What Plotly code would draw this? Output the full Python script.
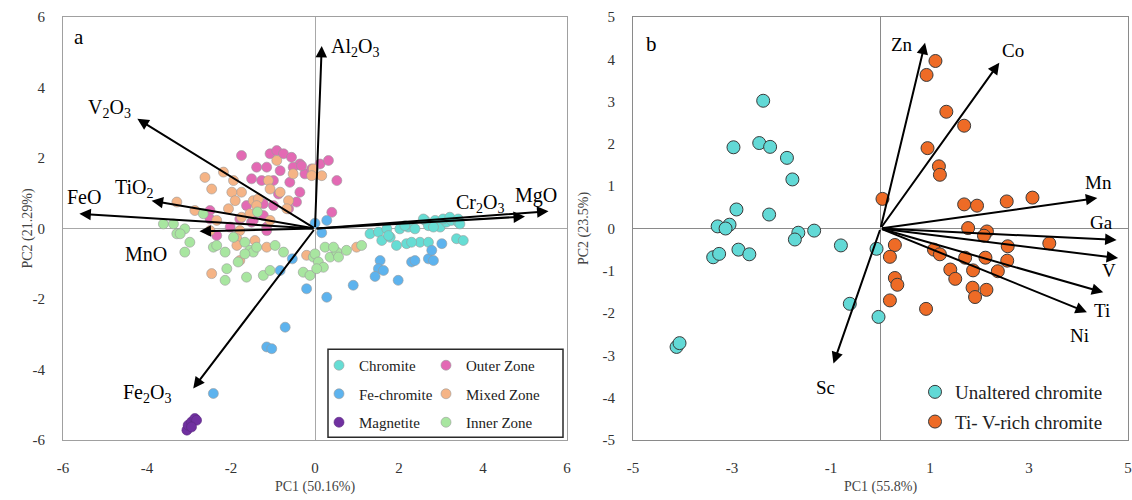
import plotly.graph_objects as go

# ---------------- Panel a data ----------------
outer_x = [-1.75, -1.07, -0.91, -0.75, -0.56, -0.36, 0.12, 0.32, 0.52, -1.39, -1.15, -0.83, -0.52, -0.24,
           -1.51, -1.27, -0.99, -0.60, -0.87, -0.36, -0.44, -0.99, -1.23, -1.63, 0.40, -2.50, -1.23, -1.51,
           -2.02, -1.15, -2.50, -1.79, -1.47, -0.63, -2.34, -1.15, -0.32, -0.08]
outer_y = [2.07, 2.12, 2.21, 2.12, 2.02, 1.83, 1.83, 1.93, 1.36, 1.74, 1.74, 1.64, 1.74, 1.55,
           1.41, 1.36, 1.36, 1.31, 0.98, 1.03, 0.75, 0.65, 0.70, 0.65, 0.46, 0.51, 0.37, 0.18,
           0.04, 0.04, 0.27, 0.27, 0.23, 0.56, -0.20, -0.06, 1.78, 1.69]

mixed_x = [-2.18, -2.62, -2.46, -1.94, -1.75, -1.98, -1.90, -1.47, -1.35, -1.11, -0.91, -0.52, -0.04, 0.16,
           -0.08, -1.07, -0.83, -0.63, -0.67, -3.29, -2.86, -2.34, -1.07, -2.06, -1.75, -1.55, -1.39, -2.50,
           -1.79, -1.43, -1.15, -1.79, -2.46, -0.20, 0.99, -1.86, -1.86]
mixed_y = [1.60, 1.45, 1.12, 1.36, 1.03, 1.03, 0.79, 0.79, 0.84, 1.36, 1.93, 1.55, 1.69, 1.50,
           1.50, 1.12, 1.03, 0.79, 0.56, 0.75, 0.51, 0.23, 0.23, 0.56, 0.32, 0.42, 0.65, -0.06,
           -0.06, -0.34, -0.53, -0.91, -1.28, -0.76, -0.53, -0.29, -0.48]

inner_x = [-3.61, -3.37, -3.10, -3.29, -2.66, -1.37, -2.98, -3.10, -2.42, -2.34, -2.14, -1.94, -1.67, -1.55,
           -1.47, -1.67, -1.39, -0.95, -0.75, -1.83, -2.10, -2.14, -1.63, -1.23, -1.07, -0.28, -0.12, -0.04,
           0.00, 0.24, 0.36, 0.08, 0.20, 0.04, 0.52, 0.75, 0.44, 0.56, 1.11, -3.21]
inner_y = [0.13, 0.13, -0.01, -0.15, 0.42, 0.47, -0.39, -0.67, -0.53, -0.48, -0.67, -0.25, -0.39, -0.62,
           -0.67, -0.72, -0.53, -0.48, -0.67, -0.95, -1.14, -1.47, -1.38, -1.33, -1.19, -1.24, -1.33, -0.81,
           -0.72, -0.53, -0.81, -0.95, -1.10, -1.14, -0.67, -0.62, -0.53, -0.81, -0.48, -0.15]

chromite_x = [1.31, 1.51, 1.71, 1.59, 1.79, 1.94, 2.18, 2.02, 2.22, 2.38, 2.50, 2.62, 2.70, 2.86, 2.98,
              3.13, 3.25, 3.41, 3.37, 3.53, 2.70, 2.30, 2.14, 2.58, 3.05, 3.21, 3.41, 3.45, 2.82, 1.75]
chromite_y = [-0.15, -0.10, -0.01, -0.34, -0.25, -0.48, -0.43, -0.01, 0.04, -0.01, -0.39, 0.23, 0.08, 0.23, 0.04,
              0.18, 0.23, 0.18, -0.29, -0.34, -0.39, -0.39, 0.08, 0.27, 0.27, 0.32, 0.27, 0.13, 0.04, -0.20]

fechromite_x = [0.00, 0.28, 0.16, 1.55, 1.51, 1.63, 2.30, 2.38, 2.70, 2.82, 2.78, 3.02, -0.54, -0.83,
                -0.20, 0.28, 0.91, 1.43, 1.98, -0.71, -1.15, -1.03, -2.42]
fechromite_y = [0.15, 0.23, -0.12, -0.91, -1.14, -1.19, -0.95, -0.91, -0.86, -0.91, -0.62, -0.43, -0.86, -1.19,
                -1.71, -1.95, -1.61, -1.36, -1.47, -2.80, -3.36, -3.41, -4.68]

magnetite_x = [-3.05, -3.02, -2.94, -2.86, -2.82, -2.94]
magnetite_y = [-5.72, -5.58, -5.49, -5.39, -5.44, -5.63]

a_vec_names = ["Al<sub>2</sub>O<sub>3</sub>", "V<sub>2</sub>O<sub>3</sub>", "FeO", "TiO<sub>2</sub>", "MnO",
               "Cr<sub>2</sub>O<sub>3</sub>", "MgO", "Fe<sub>2</sub>O<sub>3</sub>"]
a_vec_x = [0.16, -4.23, -5.61, -3.89, -2.75, 5.00, 5.56, -2.90]
a_vec_y = [5.18, 3.11, 0.42, 0.79, -0.08, 0.34, 0.49, -4.54]
a_lab_x = [0.95, -4.90, -5.50, -4.29, -4.02, 3.94, 5.26, -4.01]
a_lab_y = [5.13, 3.40, 0.88, 1.13, -0.71, 0.71, 0.93, -4.67]

a_xticks = [-6, -4, -2, 0, 2, 4, 6]
a_yticks = [-6, -4, -2, 0, 2, 4, 6]

# ---------------- Panel b data ----------------
unaltered_x = [-2.37, -2.97, -2.45, -2.23, -1.89, -1.78, -2.91, -2.25, -3.29, -3.05, -3.13, -1.66, -1.73,
               -1.34, -0.80, -0.08, -3.38, -3.26, -2.87, -2.65, -0.62, -0.04, -4.12, -4.06]
unaltered_y = [3.02, 1.92, 2.02, 1.93, 1.67, 1.16, 0.45, 0.33, 0.05, 0.09, 0.00, -0.10, -0.26,
               -0.05, -0.40, -0.48, -0.68, -0.60, -0.50, -0.61, -1.78, -2.09, -2.80, -2.71]

tiv_x = [1.11, 0.93, 1.33, 1.69, 0.95, 1.18, 1.20, 0.04, 1.69, 1.95, 2.55, 3.07, 1.77, 2.15, 2.09, 2.57,
         3.41, 0.29, 0.19, 1.08, 1.20, 1.71, 2.12, 2.56, 1.41, 1.51, 1.87, 2.37, 0.29, 0.34, 1.86, 1.91,
         2.14, 0.19, 0.92]
tiv_y = [3.96, 3.63, 2.76, 2.43, 1.90, 1.47, 1.27, 0.70, 0.57, 0.54, 0.64, 0.73, 0.01, -0.07, -0.17, -0.42,
         -0.35, -0.39, -0.67, -0.50, -0.61, -0.69, -0.69, -0.76, -0.97, -1.19, -0.99, -1.01, -1.17, -1.33, -1.40, -1.62,
         -1.45, -1.70, -1.90]

b_vec_names = ["Zn", "Co", "Mn", "Ga", "V", "Ti", "Ni", "Sc"]
b_vec_x = [0.90, 2.40, 4.38, 4.77, 4.80, 4.50, 4.17, -0.95]
b_vec_y = [4.39, 3.92, 0.72, -0.27, -0.70, -1.51, -1.98, -3.19]
b_lab_x = [0.43, 2.67, 4.41, 4.46, 4.61, 4.48, 4.03, -1.12]
b_lab_y = [4.36, 4.20, 1.09, 0.15, -0.99, -1.93, -2.52, -3.77]

b_xticks = [-5, -3, -1, 1, 3, 5]
b_yticks = [-5, -4, -3, -2, -1, 0, 1, 2, 3, 4, 5]

FONT = "Liberation Serif"
W, H = 1132, 500
ML, MR, MT, MB = 0, 4, 17, 60
PW = W - ML - MR
PH = H - MT - MB


def px_x(px):
    return (px - ML) / PW


def px_y(py):
    return (H - MB - py) / PH


def labels(vals):
    return [str(v) for v in vals]


fig = go.Figure()


def add_pts(x, y, name, color, legend, group, size, lcol, lw, xa, ya):
    fig.add_trace(go.Scatter(
        x=x, y=y, mode="markers", name=name, legend=legend, legendgroup=group,
        marker=dict(size=size, color=color, line=dict(color=lcol, width=lw)),
        xaxis=xa, yaxis=ya, hoverinfo="x+y+name"))


add_pts(outer_x, outer_y, "Outer Zone", "#E36AB4", "legend3", "g4", 10, "#9a9a9a", 0.6, "x", "y")
add_pts(mixed_x, mixed_y, "Mixed Zone", "#F5B486", "legend3", "g5", 10, "#9a9a9a", 0.6, "x", "y")
add_pts(inner_x, inner_y, "Inner Zone", "#A8E6A0", "legend3", "g6", 10, "#9a9a9a", 0.6, "x", "y")
add_pts(chromite_x, chromite_y, "Chromite", "#66DDD4", "legend", "g1", 10, "#9a9a9a", 0.6, "x", "y")
add_pts(fechromite_x, fechromite_y, "Fe-chromite", "#5DB3EE", "legend", "g2", 10, "#9a9a9a", 0.6, "x", "y")
add_pts(magnetite_x, magnetite_y, "Magnetite", "#7030A0", "legend", "g3", 10, "#5a2a80", 0.6, "x", "y")

add_pts(unaltered_x, unaltered_y, "Unaltered chromite", "#62D9D6", "legend2", "h1", 13, "#3a3a3a", 1, "x2", "y2")
add_pts(tiv_x, tiv_y, "Ti- V-rich chromite", "#EE6B26", "legend2", "h2", 13, "#3a3a3a", 1, "x2", "y2")

annotations = []
for xs, ys, xr, yr in [(a_vec_x, a_vec_y, "x", "y"), (b_vec_x, b_vec_y, "x2", "y2")]:
    for tx, ty in zip(xs, ys):
        annotations.append(dict(x=tx, y=ty, ax=0, ay=0, xref=xr, yref=yr, axref=xr, ayref=yr,
                                text="", showarrow=True, arrowhead=2, arrowsize=1.15,
                                arrowwidth=2, arrowcolor="black"))
for names, lx, ly, xr, yr, fs in [(a_vec_names, a_lab_x, a_lab_y, "x", "y", 20),
                                  (b_vec_names, b_lab_x, b_lab_y, "x2", "y2", 19)]:
    for n, tx, ty in zip(names, lx, ly):
        annotations.append(dict(x=tx, y=ty, xref=xr, yref=yr, text=n, showarrow=False,
                                font=dict(family=FONT, size=fs, color="black")))
annotations.append(dict(x=-5.61, y=5.42, xref="x", yref="y", text="a", showarrow=False,
                        font=dict(family=FONT, size=21, color="black")))
annotations.append(dict(x=-4.62, y=4.36, xref="x2", yref="y2", text="b", showarrow=False,
                        font=dict(family=FONT, size=21, color="black")))

tickfont = dict(family=FONT, size=15, color="#333333")
titlefont = dict(family=FONT, size=14, color="#444444")

# y-axis title of panel a, placed close to its tick labels as in the reference
annotations.append(dict(x=px_x(27), y=0.5, xref="paper", yref="paper", text="PC2 (21.29%)",
                        xanchor="center", yanchor="middle",
                        textangle=-90, showarrow=False, font=titlefont))

common = dict(showgrid=False, zeroline=True, showline=True, mirror=True, ticks="outside",
              ticklen=14, tickcolor="rgba(0,0,0,0)", tickfont=tickfont, automargin=False)

fig.update_layout(
    width=W, height=H, margin=dict(l=ML, r=MR, t=MT, b=MB, autoexpand=False),
    paper_bgcolor="white", plot_bgcolor="white", showlegend=True,
    annotations=annotations,
    xaxis=dict(domain=[px_x(63), px_x(567)], range=[-6, 6], tickvals=a_xticks, ticktext=labels(a_xticks),
               anchor="y", zerolinecolor="#a8a8a8", zerolinewidth=1, linecolor="#a0a0a0", linewidth=1,
               title=dict(text="PC1 (50.16%)", font=titlefont, standoff=6), **common),
    yaxis=dict(domain=[0, 1], range=[-6, 6], tickvals=a_yticks, ticktext=labels(a_yticks), anchor="x",
               zerolinecolor="#a8a8a8", zerolinewidth=1, linecolor="#a0a0a0", linewidth=1, **common),
    xaxis2=dict(domain=[px_x(633), px_x(1128)], range=[-5, 5], tickvals=b_xticks, ticktext=labels(b_xticks),
                anchor="y2", zerolinecolor="#8a8a8a", zerolinewidth=1, linecolor="#8a8a8a", linewidth=1,
                title=dict(text="PC1 (55.8%)", font=titlefont, standoff=6), **common),
    yaxis2=dict(domain=[0, 1], range=[-5, 5], tickvals=b_yticks, ticktext=labels(b_yticks), anchor="x2",
                zerolinecolor="#8a8a8a", zerolinewidth=1, linecolor="#8a8a8a", linewidth=1,
                title=dict(text="PC2 (23.5%)", font=titlefont, standoff=10), **common),
    legend=dict(x=px_x(319), y=px_y(349), xanchor="left", yanchor="top", bgcolor="rgba(0,0,0,0)",
                font=dict(family=FONT, size=15, color="#222222"), traceorder="grouped", tracegroupgap=6),
    legend3=dict(x=px_x(426), y=px_y(349), xanchor="left", yanchor="top", bgcolor="rgba(0,0,0,0)",
                 font=dict(family=FONT, size=15, color="#222222"), traceorder="grouped", tracegroupgap=6),
    legend2=dict(x=px_x(915), y=px_y(373), xanchor="left", yanchor="top", bgcolor="rgba(0,0,0,0)",
                 font=dict(family=FONT, size=19, color="#222222"), traceorder="grouped", tracegroupgap=2),
    shapes=[dict(type="rect", xref="paper", yref="paper", x0=px_x(328), x1=px_x(563),
                 y0=px_y(437.3), y1=px_y(349.3), line=dict(color="#2a2a2a", width=1.5),
                 fillcolor="rgba(0,0,0,0)", layer="below")],
)

fig.write_html("out.html")
